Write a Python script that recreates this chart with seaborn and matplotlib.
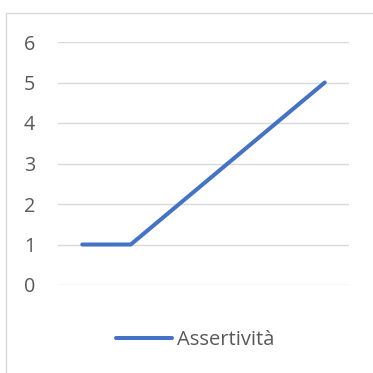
import matplotlib
matplotlib.use("Agg")
import matplotlib.pyplot as plt
import matplotlib.patches as mpatches
import seaborn as sns
import pandas as pd

# Data
categories = ["1", "2", "3", "4", "5", "6"]
assertivita = [1, 1, 2, 3, 4, 5]
series_name = "Assertività"
y_ticks = [0, 1, 2, 3, 4, 5, 6]

df = pd.DataFrame({"cat": categories, "val": assertivita})
df["pos"] = range(len(categories))

sns.set_theme(style="white")
plt.rcParams["font.family"] = ["Open Sans", "DejaVu Sans"]

W, H = 373, 373
fig = plt.figure(figsize=(W / 100, H / 100), dpi=100)
ax = fig.add_axes([58 / W, 1 - 285 / H, (349 - 58) / W, (285 - 42) / H])

sns.lineplot(data=df, x="pos", y="val", ax=ax, color="#4472C4",
             linewidth=2.9, solid_capstyle="round", label=series_name,
             legend=False)

ax.set_xlim(-0.5, len(categories) - 0.5)
ax.set_ylim(0, 6)
ax.set_yticks(y_ticks)
ax.set_yticklabels([str(t) for t in y_ticks])
ax.set_xticks([])
ax.set_xlabel("")
ax.set_ylabel("")
ax.yaxis.grid(True, color="#D9D9D9", linewidth=1.0)
ax.set_axisbelow(True)
for s in ax.spines.values():
    s.set_visible(False)
ax.tick_params(axis="y", length=0, pad=16.5, labelsize=14.2, labelcolor="#595959")

# Chart frame
frame = mpatches.Rectangle((6 / W, -0.1), 1.2, 1 - 13 / H + 0.1,
                           transform=fig.transFigure, fill=False,
                           edgecolor="#D9D9D9", linewidth=1.0)
fig.patches.append(frame)

handles, labels = ax.get_legend_handles_labels()
leg = fig.legend(handles, labels, loc="center", bbox_to_anchor=(195 / W, 1 - 340 / H),
                 frameon=False, fontsize=14.5, handlelength=2.8, handletextpad=0.2,
                 labelcolor="#595959")

fig.savefig("out.png", dpi=100)
